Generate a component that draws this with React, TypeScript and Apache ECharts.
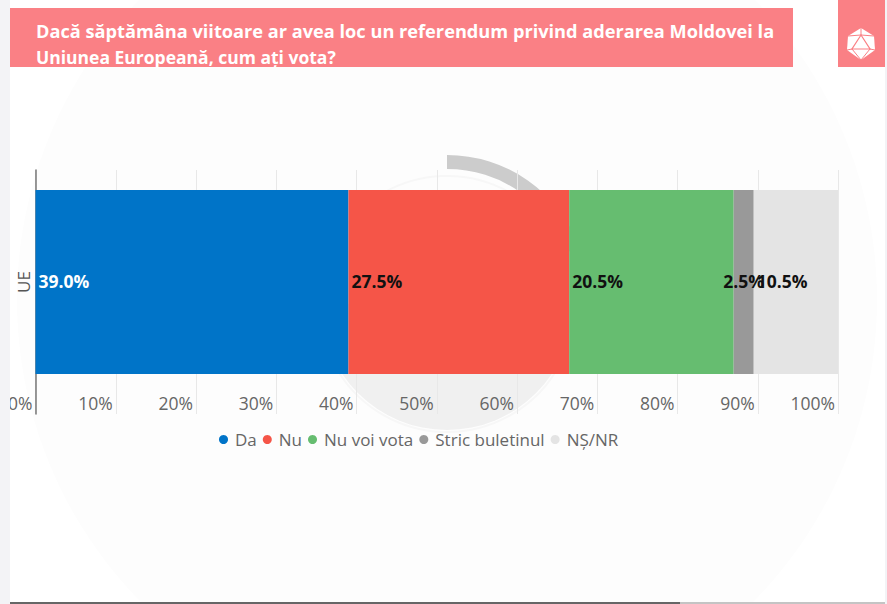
import React, { useEffect, useRef } from "react";
import * as echarts from "echarts";

const categories = ["UE"];
const seriesNames = ["Da", "Nu", "Nu voi vota", "Stric buletinul", "NȘ/NR"];
const seriesValues = [39.0, 27.5, 20.5, 2.5, 10.5];
const seriesColors = ["#0074c8", "#f55548", "#66bd70", "#999999", "#e4e4e4"];
const labelColors = ["#ffffff", "#111111", "#111111", "#111111", "#111111"];
const titleLines = [
  "Dacă săptămâna viitoare ar avea loc un referendum privind aderarea Moldovei la",
  "Uniunea Europeană, cum ați vota?",
];
const FONT = '"Open Sans", sans-serif';

export default function App() {
  const ref = useRef<HTMLDivElement>(null);
  useEffect(() => {
    const chart = echarts.init(ref.current!, null, { renderer: "svg" });
    const pink = "#fa8085";
    chart.setOption({
      animation: false,
      backgroundColor: "#ffffff",
      grid: [
        { left: 35.5, top: 170, width: 802.5, height: 244, containLabel: false },
        { left: 35.5, top: 170, width: 802.5, height: 224, containLabel: false },
      ],
      xAxis: [
        {
          gridIndex: 0, type: "value", min: 0, max: 100, interval: 10,
          axisLine: { show: false }, axisTick: { show: false },
          splitLine: { show: true, lineStyle: { color: "#e8e8e8", width: 1 } },
          axisLabel: {
            inside: true, align: "right", margin: 2, padding: [0, 3, 0, 0],
            color: "#666666", fontFamily: FONT, fontSize: 17.5,
            formatter: "{value}%", showMinLabel: true, showMaxLabel: true, hideOverlap: false,
          },
        },
        { gridIndex: 1, type: "value", min: 0, max: 100, show: false },
      ],
      yAxis: [
        {
          gridIndex: 0, type: "category", data: [""],
          axisLine: { show: true, onZero: false, lineStyle: { color: "#777777", width: 1.5 } },
          axisTick: { show: false }, axisLabel: { show: false }, splitLine: { show: false },
        },
        {
          gridIndex: 1, type: "category", data: categories,
          axisLine: { show: false }, axisTick: { show: false },
          axisLabel: { rotate: 90, margin: 4, color: "#555555", fontFamily: FONT, fontSize: 17 },
        },
      ],
      legend: {
        data: seriesNames, left: 219, top: 431, icon: "circle", itemWidth: 9, itemHeight: 9,
        itemGap: 6, padding: 0,
        textStyle: { color: "#666666", fontFamily: FONT, fontSize: 17, padding: [0, 0, 0, 2] },
      },
      series: seriesNames.map((name, i) => ({
        name,
        type: "bar",
        stack: "total",
        xAxisIndex: 1,
        yAxisIndex: 1,
        barWidth: 184,
        data: [seriesValues[i]],
        itemStyle: { color: seriesColors[i] },
        label: {
          show: true,
          position: i === 3 ? "inside" : "insideLeft",
          distance: 3,
          offset: [0, -1],
          formatter: (p: any) => `${Number(p.value).toFixed(1)}%`,
          color: labelColors[i],
          fontFamily: FONT,
          fontSize: 17.5,
          fontWeight: 700,
          textBorderWidth: 0,
        },
      })),
      graphic: [
        // watermark
        { type: "circle", z: -5, shape: { cx: 447, cy: 300, r: 430 }, style: { fill: "#fdfdfd" } },
        { type: "sector", z: -4, shape: { cx: 447, cy: 304, r0: 0, r: 126, startAngle: 0, endAngle: Math.PI }, style: { fill: "#f0f0f0" } },
        { type: "circle", z: -4, shape: { cx: 447, cy: 304, r: 128 }, style: { fill: "none", stroke: "#f7f7f7", lineWidth: 2 } },
        { type: "sector", z: -3, shape: { cx: 447, cy: 296, r0: 127, r: 141, startAngle: -Math.PI / 2, endAngle: -0.35 }, style: { fill: "#cccccc" } },
        // page frame
        { type: "rect", z: 50, shape: { x: 0, y: 0, width: 10, height: 604 }, style: { fill: "#f3f3f6" } },
        { type: "rect", z: 50, shape: { x: 885, y: 0, width: 2, height: 604 }, style: { fill: "#f3f3f6" } },
        { type: "rect", z: 50, shape: { x: 10, y: 602, width: 670, height: 2 }, style: { fill: "#666666" } },
        { type: "rect", z: 50, shape: { x: 680, y: 602, width: 205, height: 2 }, style: { fill: "#c4c4c4" } },
        // title banner
        { type: "rect", z: 60, shape: { x: 10, y: 8, width: 783, height: 59 }, style: { fill: pink } },
        { type: "text", z: 61, x: 36, y: 31.5, scaleX: 1.04, style: { x: 0, y: 0, text: titleLines[0], fill: "#ffffff", font: `700 17.5px ${FONT}`, verticalAlign: "middle" } },
        { type: "text", z: 61, x: 36, y: 56.5, style: { x: 0, y: 0, text: titleLines[1], fill: "#ffffff", font: `700 17.5px ${FONT}`, verticalAlign: "middle" } },
        // logo
        { type: "rect", z: 60, shape: { x: 838, y: 0, width: 47, height: 67 }, style: { fill: pink } },
        { type: "polygon", z: 61, shape: { points: [[861, 28], [874, 36], [875, 50], [861, 60], [847, 50], [848, 36]] }, style: { fill: "#ffffff" } },
        { type: "polygon", z: 62, shape: { points: [[861, 35], [870, 49], [852, 49]] }, style: { fill: "#ffffff", stroke: pink, lineWidth: 1.2 } },
        { type: "line", z: 62, shape: { x1: 861, y1: 28, x2: 861, y2: 35 }, style: { stroke: pink, lineWidth: 1 } },
        { type: "line", z: 62, shape: { x1: 848, y1: 36, x2: 861, y2: 35 }, style: { stroke: pink, lineWidth: 1 } },
        { type: "line", z: 62, shape: { x1: 874, y1: 36, x2: 861, y2: 35 }, style: { stroke: pink, lineWidth: 1 } },
        { type: "line", z: 62, shape: { x1: 847, y1: 50, x2: 852, y2: 49 }, style: { stroke: pink, lineWidth: 1 } },
        { type: "line", z: 62, shape: { x1: 875, y1: 50, x2: 870, y2: 49 }, style: { stroke: pink, lineWidth: 1 } },
        { type: "line", z: 62, shape: { x1: 852, y1: 49, x2: 861, y2: 60 }, style: { stroke: pink, lineWidth: 1 } },
        { type: "line", z: 62, shape: { x1: 870, y1: 49, x2: 861, y2: 60 }, style: { stroke: pink, lineWidth: 1 } },
      ],
    });
    return () => chart.dispose();
  }, []);
  return <div ref={ref} style={{ position: "fixed", left: 0, top: 0, width: 887, height: 604 }} />;
}
